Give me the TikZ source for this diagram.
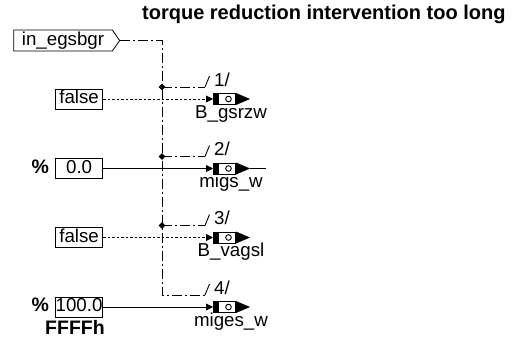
\documentclass[tikz,border=0pt]{standalone}
\usepackage{fontspec}
\setmainfont{Liberation Sans}
\usetikzlibrary{shapes.symbols,shapes.geometric,arrows.meta}
\newcommand\outblk[4]{%
  \node[oblk] (#1) at (213,#2) {};
  \fill (#1.north west) rectangle ([xshift=6pt]#1.south west);
  \draw[line width=0.9pt] ([xshift=4pt]#1.center) circle (2.8pt);
  \fill (#1.north east) -- ([xshift=14pt]#1.east) -- (#1.south east) -- cycle;
  \node[outname] (#1n) at (231,#2+19) {#3};
  \node[lbl] (#1l) at (214,#2-13) {#4};
}
\begin{document}
\begin{tikzpicture}[x=1pt,y=-1pt,
  every node/.style={font=\fontsize{18.7}{21}\selectfont},
  valbox/.style={draw, line width=0.8pt, minimum height=20pt, minimum width=47pt,
    text height=13pt, text depth=3.5pt, inner xsep=0pt, inner ysep=0pt, anchor=east},
  ctl/.style={line width=0.9pt, dash pattern=on 10pt off 3pt on 2pt off 3pt},
  dotl/.style={line width=0.9pt, dash pattern=on 2.5pt off 2pt},
  sol/.style={line width=0.9pt},
  tip/.style={-{Triangle[length=7pt,width=7pt]}},
  jdot/.style={diamond, fill, inner sep=0pt, minimum size=7pt},
  lbl/.style={anchor=base west, inner sep=0pt},
  outname/.style={anchor=base, inner sep=0pt},
  oblk/.style={draw, line width=1pt, minimum width=22pt, minimum height=11pt, inner sep=0pt, anchor=west},
  pct/.style={font=\fontsize{19.5}{21}\selectfont\bfseries, anchor=base east, inner sep=0pt}
]
\useasboundingbox (0,0) rectangle (514,345);

% title
\node[anchor=base west, font=\fontsize{20}{22}\selectfont\bfseries, inner sep=0pt] (title) at (142,20)
  {torque reduction intervention too long};

% input
\node[signal, signal to=east, signal pointer angle=110, draw, line width=0.8pt,
  minimum width=106pt, minimum height=21pt, inner sep=1pt, text height=13pt, text depth=3.5pt]
  (in) at (63,40.5) {in\_egsbgr};

% value boxes
\node[valbox] (f1) at (103,99) {false};
\node[valbox] (c2) at (103,168.5) {0.0};
\node[valbox] (f3) at (103,237.5) {false};
\node[valbox] (c4) at (103,307) {100.0};
\node[pct, xshift=-6pt] (p2) at (c2.base west) {\%};
\node[pct, xshift=-6pt] (p4) at (c4.base west) {\%};
\node[pct, anchor=base west] (ff) at (45,334) {FFFFh};

% output blocks
\outblk{o1}{99}{B\_gsrzw}{1/}
\outblk{o2}{168.5}{migs\_w}{2/}
\outblk{o3}{237.5}{B\_vagsl}{3/}
\outblk{o4}{307}{miges\_w}{4/}

% junctions
\node[jdot] (j1) at (162,87) {};
\node[jdot] (j2) at (162,156.5) {};
\node[jdot] (j3) at (162,225.5) {};
\coordinate (k4) at (162,295);
\coordinate (t1) at (205,87);
\coordinate (t2) at (205,156.5);
\coordinate (t3) at (205,225.5);
\coordinate (t4) at (205,295);
\coordinate (e2) at (266,168.5);

% control bus
\draw[ctl] (in.east) -| (j1.center) -- (j2.center) -- (j3.center) -- (k4) -- (t4);
\draw[ctl] (j1.center) -- (t1);
\draw[ctl] (j2.center) -- (t2);
\draw[ctl] (j3.center) -- (t3);
\foreach \t in {t1,t2,t3,t4}{\draw[sol] (\t) -- ++(4.5,-11);}

% data lines
\draw[dotl, tip] (f1.east) -- (o1.west);
\draw[sol, tip] (c2.east) -- (o2.west);
\draw[dotl, tip] (f3.east) -- (o3.west);
\draw[sol, tip] (c4.east) -- (o4.west);
\draw[sol] ([xshift=14pt]o2.east) -- (e2);
\end{tikzpicture}
\end{document}
